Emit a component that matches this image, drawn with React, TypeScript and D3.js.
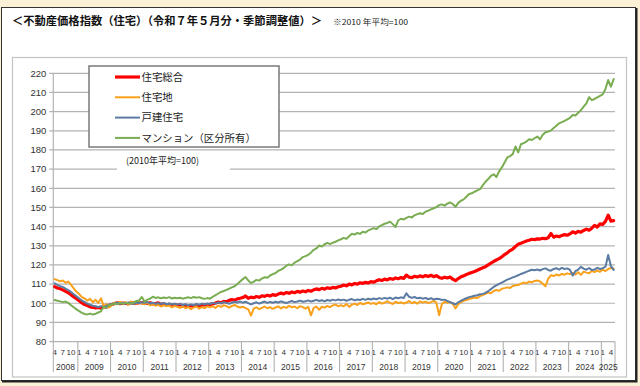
import React, { useRef, useEffect } from 'react';
import * as d3 from 'd3';

// monthly index, Apr 2008 - May 2025 (2010 avg = 100)
const years = [2008, 2009, 2010, 2011, 2012, 2013, 2014, 2015, 2016, 2017, 2018, 2019, 2020, 2021, 2022, 2023, 2024, 2025];
const firstMonth = 4;
const lastMonth = 5;
const monthTicks = [1, 4, 7, 10];
const yTicks = [80, 90, 100, 110, 120, 130, 140, 150, 160, 170, 180, 190, 200, 210, 220];

const seriesNames = ['住宅総合', '住宅地', '戸建住宅', 'マンション（区分所有）'];

const sogo = [
  108.7, 108.0, 107.6, 107.0, 106.2, 105.5, 104.4, 103.3, 102.4,
  101.3, 100.2, 99.3, 98.8, 98.1, 97.9, 97.6, 97.8, 97.4, 98.2, 98.0, 98.9,
  99.4, 99.9, 100.2, 99.8, 100.1, 100.0, 99.7, 100.3, 100.1, 99.9, 100.4, 100.2,
  100.5, 99.9, 100.3, 99.6, 99.8, 100.2, 99.4, 99.7, 99.2, 99.5, 99.0, 99.3,
  98.8, 99.2, 98.5, 98.9, 98.3, 98.7, 98.4, 99.0, 98.6, 98.9, 99.2, 98.8,
  99.4, 99.7, 100.1, 100.6, 100.3, 101.0, 100.8, 101.5, 101.9, 101.6, 102.3, 102.6,
  103.0, 103.8, 102.6, 103.2, 102.9, 103.5, 103.1, 103.9, 103.6, 104.2, 103.8, 104.5,
  104.1, 104.8, 105.3, 104.9, 105.6, 105.2, 105.9, 105.5, 106.2, 105.8, 106.4, 106.0,
  106.7, 106.3, 107.0, 107.5, 107.1, 107.8, 107.4, 108.1, 107.7, 108.3, 108.0, 108.6,
  108.9, 109.5, 109.1, 110.0, 109.6, 110.3, 110.0, 110.7, 110.4, 110.9, 110.6, 111.3,
  111.0, 111.7, 112.3, 111.9, 112.6, 112.2, 112.9, 112.5, 113.2, 112.8, 113.4, 113.0,
  114.7, 113.6, 113.4, 114.1, 113.7, 114.3, 113.8, 114.5, 114.0, 114.6, 113.9, 114.4,
  113.5, 113.0, 113.6, 113.2, 113.7, 112.6, 111.8, 112.9, 113.8, 114.3, 115.0, 115.6,
  116.1, 116.6, 117.2, 117.9, 118.5, 119.1, 120.0, 120.9, 121.8, 122.6, 123.3, 124.2,
  125.4, 126.3, 127.5, 128.3, 129.6, 130.8, 131.3, 131.9, 132.5, 132.9, 133.4, 133.2,
  133.6, 133.5, 133.9, 133.7, 134.2, 136.4, 134.5, 135.1, 134.7, 135.4, 135.8, 135.5,
  136.2, 137.3, 136.6, 137.5, 137.1, 138.0, 138.7, 138.1, 139.2, 140.6, 139.8, 141.4,
  141.2, 142.7, 146.0, 142.9, 143.1,
];

const jutakuchi = [
  112.6, 112.1, 111.4, 111.9, 110.7, 111.3, 109.6, 107.8, 106.0,
  104.8, 103.2, 102.5, 101.4, 102.3, 100.6, 101.8, 100.2, 102.6, 98.4, 99.6, 97.8,
  99.2, 100.4, 99.6, 100.8, 99.9, 100.5, 99.4, 100.9, 100.1, 99.7, 100.6, 99.8,
  99.5, 100.3, 98.9, 99.6, 98.7, 99.2, 98.3, 99.0, 98.5, 98.8, 97.9, 98.6,
  98.2, 97.6, 98.5, 97.4, 98.1, 96.9, 97.8, 98.3, 97.2, 98.0, 97.5, 98.4,
  97.9, 98.4, 97.6, 98.8, 98.1, 99.0, 98.5, 97.7, 98.6, 99.1, 98.3, 97.8,
  98.2, 97.5, 96.8, 93.6, 97.2, 97.9, 96.9, 97.6, 98.3, 97.4, 98.0, 97.1,
  97.8, 98.4, 97.3, 98.1, 97.6, 98.7, 97.9, 98.3, 97.4, 98.5, 98.0, 97.2,
  98.1, 93.7, 97.6, 98.3, 96.6, 98.2, 97.7, 98.6, 98.0, 98.9, 99.3, 98.5,
  99.0, 98.4, 99.6, 98.1, 99.3, 99.8, 99.1, 100.2, 99.5, 99.9, 100.4, 99.7,
  100.1, 99.5, 100.6, 99.8, 100.3, 101.0, 100.2, 99.6, 100.8, 100.1, 100.5, 99.9,
  100.4, 101.2, 100.0, 100.7, 99.8, 101.0, 100.3, 100.9, 100.1, 100.6, 101.3, 100.2,
  93.8, 99.6, 100.8, 100.2, 100.6, 99.7, 97.3, 99.5, 100.6, 101.3, 101.7, 102.2,
  102.6, 103.0, 102.7, 103.8, 104.3, 104.9, 105.6, 105.2, 106.4, 106.9, 106.5, 107.6,
  107.9, 108.3, 108.0, 109.0, 109.4, 109.5, 110.2, 110.8, 110.4, 111.3, 111.0, 111.6,
  111.9, 111.4, 110.2, 108.9, 112.8, 114.6, 114.2, 115.0, 114.5, 115.3, 114.9, 115.6,
  115.2, 115.8, 115.0, 116.2, 114.8, 116.5, 116.0, 115.7, 116.8, 116.3, 117.1, 116.4,
  117.6, 116.8, 117.9, 118.4, 118.0,
];

const kodate = [
  110.4, 109.6, 108.9, 108.5, 107.6, 106.9, 105.8, 104.7, 103.6,
  102.5, 101.4, 100.6, 99.8, 99.2, 98.7, 98.4, 98.1, 98.5, 98.0, 98.6, 99.1,
  99.6, 99.9, 100.3, 99.7, 100.2, 99.8, 100.4, 100.0, 99.7, 100.3, 100.1, 100.5,
  100.2, 100.6, 99.9, 100.3, 99.7, 100.1, 99.6, 100.2, 99.5, 99.9, 99.4, 99.8,
  99.3, 99.7, 99.1, 99.5, 98.9, 99.4, 99.0, 99.6, 99.2, 99.8, 99.4, 99.9,
  99.6, 100.2, 99.8, 100.4, 100.0, 100.6, 100.2, 99.7, 100.3, 100.8, 100.4, 100.9,
  100.3, 100.8, 100.1, 99.4, 100.0, 100.5, 99.8, 100.4, 100.9, 100.2, 100.7, 100.3,
  100.8, 100.4, 101.0, 100.5, 100.1, 100.7, 101.2, 100.6, 100.9, 101.4, 100.8, 101.1,
  101.5, 100.9, 101.3, 101.8, 101.2, 101.6, 101.0, 101.7, 101.3, 101.9, 101.5, 102.0,
  101.6, 101.9, 101.3, 101.8, 102.2, 101.5, 102.0, 101.7, 102.3, 101.8, 102.4, 102.0,
  102.5, 102.1, 102.7, 102.3, 102.8, 102.4, 102.9, 102.2, 103.0, 102.6, 103.1, 102.7,
  105.2, 103.4, 102.8, 103.3, 102.6, 102.9, 102.4, 102.8, 102.1, 102.6, 102.0, 102.4,
  102.2, 101.7, 101.9, 101.2, 100.6, 100.0, 99.4, 100.5, 101.3, 102.0, 102.6, 103.2,
  103.5, 103.9, 104.2, 104.7, 104.9, 105.4, 106.3, 107.4, 108.5, 109.3, 110.1, 110.8,
  111.6, 112.3, 112.9, 113.5, 114.0, 114.6, 115.3, 115.8, 116.4, 117.0, 117.5, 117.2,
  117.6, 117.1, 117.8, 118.2, 117.4, 117.0, 117.9, 118.3, 117.6, 118.5, 117.9, 118.2,
  117.4, 114.4, 116.8, 117.6, 119.0, 118.1, 117.5, 118.4, 117.3, 117.6, 118.5, 117.9,
  118.3, 119.0, 125.2, 119.4, 117.4,
];

const mansion = [
  101.7, 101.3, 101.0, 100.6, 100.9, 100.2, 99.0, 97.9, 96.8,
  95.9, 95.0, 94.4, 94.2, 94.6, 94.1, 94.5, 95.2, 95.8, 98.2, 97.6, 99.1,
  99.4, 99.8, 99.5, 100.1, 99.7, 100.3, 100.0, 99.8, 100.4, 101.2, 101.5, 103.3,
  100.8, 101.9, 102.4, 103.4, 102.8, 103.1, 102.6, 103.0, 102.7, 103.2, 102.5, 102.9,
  102.6, 102.9, 102.4, 102.8, 103.1, 102.7, 103.3, 102.9, 103.2, 102.6, 102.3, 102.7,
  102.4, 103.4, 104.3, 105.1, 105.9, 106.4, 107.0, 107.6, 108.3, 108.9, 110.1, 111.4,
  112.6, 113.7, 111.9, 110.5, 111.3, 112.2, 111.8, 112.9, 113.6, 113.3, 114.5, 115.2,
  115.8, 116.9, 117.6, 118.4, 119.6, 120.3, 119.8, 121.2, 122.0, 122.8, 124.1, 124.6,
  125.3, 126.4, 127.9, 128.6, 130.2, 129.6, 130.8, 131.5, 130.9, 131.6, 132.1, 132.8,
  133.4, 134.1, 133.6, 135.0, 136.3, 135.8, 136.7, 136.2, 137.3, 136.9, 138.0, 138.6,
  139.2, 138.7, 140.1, 140.8, 141.5, 141.9, 142.6, 141.3, 139.8, 143.2, 144.1, 143.7,
  144.6, 145.2, 144.8, 145.9, 146.5, 147.0, 146.6, 147.8, 148.3, 149.0, 149.6, 150.2,
  151.2, 151.6, 150.9, 152.0, 152.6, 151.8, 150.3, 152.4, 153.5, 154.2, 155.6, 157.0,
  157.4, 158.2, 158.9, 159.6, 161.5, 163.4, 164.8, 166.5, 167.3, 165.9, 168.8, 170.9,
  173.4, 176.1, 176.8, 177.8, 181.8, 178.7, 183.0, 183.6, 184.4, 185.6, 185.2, 186.1,
  187.0, 185.6, 187.9, 189.2, 189.6, 190.1, 191.4, 192.6, 193.9, 194.5, 195.2, 196.0,
  196.8, 198.2, 198.0, 199.4, 200.8, 202.6, 204.3, 207.5, 206.0, 206.6, 207.4, 208.2,
  209.0, 211.8, 216.5, 213.0, 217.0,
];

const seriesValues = [sogo, jutakuchi, kodate, mansion];
const seriesColors = ['#ff0000', '#f9a11b', '#5b7ba3', '#7aad52'];
const seriesWidths = [3.2, 2, 2, 2];

const JP = "'Noto Sans CJK JP', sans-serif";
const NUM = "'Liberation Sans', Arial, sans-serif";

interface Month { year: number; month: number; key: string; }

const App: React.FC = () => {
  const ref = useRef<SVGSVGElement | null>(null);

  useEffect(() => {
    if (!ref.current) return;
    const svg = d3.select(ref.current);
    svg.selectAll('*').remove();

    // categories
    const months: Month[] = [];
    years.forEach((y, yi) => {
      const from = yi === 0 ? firstMonth : 1;
      const to = yi === years.length - 1 ? lastMonth : 12;
      for (let m = from; m <= to; m++) months.push({ year: y, month: m, key: `${y}-${m}` });
    });

    const left = 53.3, right = 615, top = 73.3, bottom = 341.6;

    const x = d3.scaleBand<string>().domain(months.map(d => d.key)).range([left, right]).padding(0);
    const y = d3.scaleLinear().domain([80, 220]).range([bottom, top]);
    const cx = (k: string) => (x(k) as number) + x.bandwidth() / 2;

    // frame
    svg.append('rect').attr('width', 640).attr('height', 386).attr('fill', '#fcf1d6');
    svg.append('rect').attr('x', 1.5).attr('y', 7.5).attr('width', 634).attr('height', 373)
      .attr('fill', '#fff').attr('stroke', '#333').attr('stroke-width', 1);
    svg.append('path').attr('d', 'M636.5,8 V381.5 H2').attr('fill', 'none').attr('stroke', '#222').attr('stroke-width', 2);

    svg.append('text').attr('x', 12).attr('y', 25).attr('font-family', JP).attr('font-weight', 'bold')
      .attr('font-size', 11.3).attr('textLength', 310).attr('lengthAdjust', 'spacingAndGlyphs').attr('fill', '#111')
      .text('＜不動産価格指数（住宅）（令和７年５月分・季節調整値）＞');
    svg.append('text').attr('x', 333).attr('y', 24.5).attr('font-family', JP).attr('font-size', 8)
      .attr('textLength', 75).attr('lengthAdjust', 'spacingAndGlyphs').attr('fill', '#222')
      .text('※2010 年平均=100');

    svg.append('rect').attr('x', 12.5).attr('y', 57.5).attr('width', 614).attr('height', 319.5)
      .attr('fill', '#fff').attr('stroke', '#c4c4c4').attr('stroke-width', 1.2);

    // gridlines + y axis
    const g = svg.append('g');
    g.selectAll('line.grid').data(yTicks).join('line')
      .attr('x1', left - 4).attr('x2', right)
      .attr('y1', d => y(d)).attr('y2', d => y(d))
      .attr('stroke', '#b3b3b3').attr('stroke-width', 1.2);
    g.append('line').attr('x1', left).attr('x2', left).attr('y1', top).attr('y2', bottom)
      .attr('stroke', '#b3b3b3').attr('stroke-width', 1.2);
    g.selectAll('text.ytick').data(yTicks).join('text')
      .attr('x', left - 7).attr('y', d => y(d)).attr('dy', '0.35em')
      .attr('text-anchor', 'end').attr('font-family', NUM).attr('font-size', 9.5).attr('fill', '#333')
      .text(d => d);

    // x axis: months + years
    const xa = svg.append('g');
    xa.selectAll('text.m').data(months.filter(d => monthTicks.includes(d.month))).join('text')
      .attr('x', d => cx(d.key)).attr('y', 354.5).attr('text-anchor', 'middle')
      .attr('font-family', NUM).attr('font-size', 8).attr('fill', '#333')
      .text(d => d.month);
    const yearStarts = years.map(yr => months.find(d => d.year === yr) as Month);
    const seps = yearStarts.map(d => x(d.key) as number).concat([right]);
    xa.selectAll('line.sep').data(seps).join('line')
      .attr('x1', d => d).attr('x2', d => d).attr('y1', bottom).attr('y2', 372)
      .attr('stroke', '#aaa').attr('stroke-width', 1);
    xa.selectAll('text.yr').data(years).join('text')
      .attr('x', (_d, i) => (seps[i] + seps[i + 1]) / 2).attr('y', 370)
      .attr('text-anchor', 'middle').attr('font-family', NUM).attr('font-size', 8.5).attr('fill', '#333')
      .text(d => d);

    // lines
    const line = d3.line<number>().x((_d, i) => cx(months[i].key)).y(d => y(d));
    seriesValues.forEach((vals, s) => {
      svg.append('path').datum(vals).attr('d', line)
        .attr('fill', 'none').attr('stroke', seriesColors[s]).attr('stroke-width', seriesWidths[s])
        .attr('stroke-linejoin', 'round').attr('stroke-linecap', 'round');
    });

    // legend
    const lg = svg.append('g');
    lg.append('rect').attr('x', 89).attr('y', 66).attr('width', 190).attr('height', 81)
      .attr('fill', '#fff').attr('stroke', '#7a7a7a').attr('stroke-width', 1.5);
    seriesNames.forEach((name, s) => {
      const ry = 77 + s * 20.3;
      lg.append('line').attr('x1', 115).attr('x2', 140).attr('y1', ry).attr('y2', ry)
        .attr('stroke', seriesColors[s]).attr('stroke-width', seriesWidths[s]);
      lg.append('text').attr('x', 141.5).attr('y', ry).attr('dy', '0.36em')
        .attr('font-family', JP).attr('font-size', 10.4).attr('fill', '#222').text(name);
    });

    svg.append('rect').attr('x', 117).attr('y', 152).attr('width', 113).attr('height', 20).attr('fill', '#fff');
    svg.append('text').attr('x', 162.5).attr('y', 161).attr('dy', '0.35em').attr('text-anchor', 'middle')
      .attr('font-family', JP).attr('font-size', 9).attr('fill', '#222').text('(2010年平均=100)');
  }, []);

  return (
    <div style={{ position: 'absolute', left: 0, top: 0 }}>
      <svg ref={ref} width={640} height={386} style={{ display: 'block' }} />
    </div>
  );
};

export default App;
